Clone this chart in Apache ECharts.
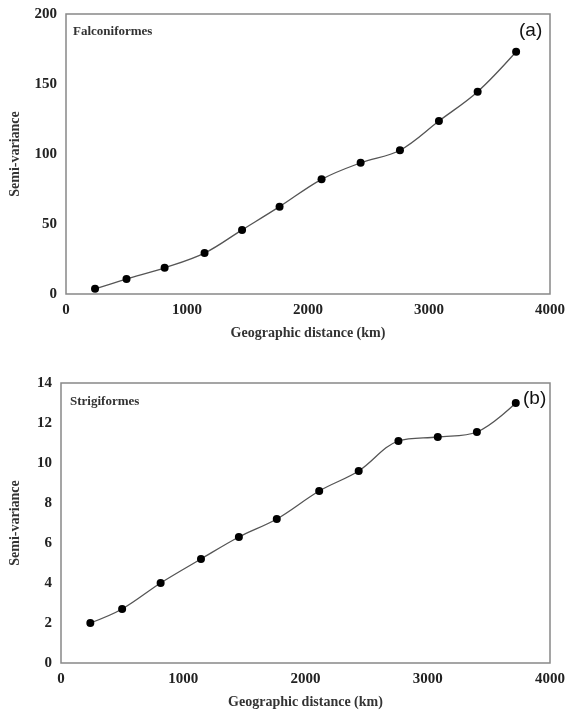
<!DOCTYPE html>
<html>
<head>
<meta charset="utf-8">
<script src="https://cdn.jsdelivr.net/npm/echarts@6/dist/echarts.min.js"></script>
<style>
  html, body { margin: 0; padding: 0; background: #fff; }
  #chart { width: 568px; height: 715px; }
</style>
</head>
<body>
<div id="chart"></div>
<script>
// geographic distance classes (km)
var distances = [240, 500, 815, 1145, 1455, 1765, 2112, 2435, 2760, 3082, 3402, 3720]
// semi-variance, (a) Falconiformes
var falconValues = [3.7, 10.7, 18.7, 29.2, 45.8, 62.4, 81.9, 93.7, 102.7, 123.6, 144.5, 173]
// semi-variance, (b) Strigiformes
var strigValues = [2.0, 2.7, 4.0, 5.2, 6.3, 7.2, 8.6, 9.6, 11.1, 11.3, 11.55, 13.0]

function pairs(xs, ys) {
  return xs.map(function (x, i) { return [x, ys[i]] })
}

var serif = 'Liberation Serif'
var labelStyle = { fontFamily: serif, fontWeight: 'bold', fontSize: 15, color: '#222' }

function xAxisFor(idx) {
  return {
    gridIndex: idx, type: 'value', min: 0, max: 4000, interval: 1000,
    name: 'Geographic distance (km)', nameLocation: 'middle', nameGap: 32,
    nameTextStyle: { fontFamily: serif, fontWeight: 'bold', fontSize: 14, color: '#333' },
    axisLine: { show: false }, axisTick: { show: false }, splitLine: { show: false },
    axisLabel: Object.assign({ margin: 9, formatter: function (v) { return String(v) } }, labelStyle)
  }
}

function yAxisFor(idx, max, step) {
  return {
    gridIndex: idx, type: 'value', min: 0, max: max, interval: step,
    name: 'Semi-variance', nameLocation: 'middle', nameGap: idx === 0 ? 44 : 39,
    nameTextStyle: { fontFamily: serif, fontWeight: 'bold', fontSize: 14, color: '#333' },
    axisLine: { show: false }, axisTick: { show: false }, splitLine: { show: false },
    axisLabel: Object.assign({ margin: 9 }, labelStyle)
  }
}

function lineSeries(idx, data) {
  return {
    type: 'line', xAxisIndex: idx, yAxisIndex: idx,
    data: data, smooth: 0.35,
    symbol: 'circle', symbolSize: 8,
    itemStyle: { color: '#000' },
    lineStyle: { color: '#555', width: 1.3 }
  }
}

var myChart = echarts.init(document.getElementById('chart'))
myChart.setOption({
  backgroundColor: '#fff',
  animation: false,
  grid: [
    { left: 65, right: 18, top: 14, height: 280, show: true, borderColor: '#888', borderWidth: 1.5 },
    { left: 60, right: 13, top: 383, height: 280, show: true, borderColor: '#888', borderWidth: 1.5 }
  ],
  xAxis: [xAxisFor(0), xAxisFor(1)],
  yAxis: [yAxisFor(0, 200, 50), yAxisFor(1, 14, 2)],
  graphic: [
    { type: 'text', left: 73, top: 25, style: { text: 'Falconiformes', font: 'bold 13px "Liberation Serif"', fill: '#333' } },
    { type: 'text', left: 519, top: 21, style: { text: '(a)', font: '19px "Liberation Sans"', fill: '#111' } },
    { type: 'text', left: 70, top: 395, style: { text: 'Strigiformes', font: 'bold 13px "Liberation Serif"', fill: '#333' } },
    { type: 'text', left: 523, top: 389, style: { text: '(b)', font: '19px "Liberation Sans"', fill: '#111' } }
  ],
  series: [
    lineSeries(0, pairs(distances, falconValues)),
    lineSeries(1, pairs(distances, strigValues))
  ]
})
</script>
</body>
</html>
